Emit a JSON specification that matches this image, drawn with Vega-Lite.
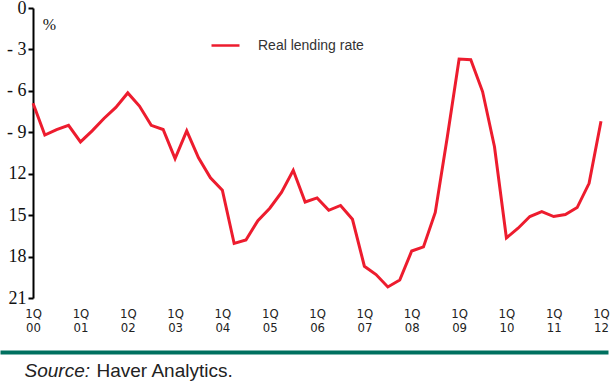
{
  "$schema": "https://vega.github.io/schema/vega-lite/v6.json",
  "width": 608,
  "height": 290,
  "autosize": {"type": "none"},
  "padding": {"left": 0, "top": 8, "right": 6, "bottom": 83},
  "background": "white",
  "config": {"view": {"stroke": null}},
  "datasets": {
    "rate": [
      {"date": "2000-01-01", "value": -6.9, "series": "Real lending rate"},
      {"date": "2000-04-01", "value": -9.2, "series": "Real lending rate"},
      {"date": "2000-07-01", "value": -8.8, "series": "Real lending rate"},
      {"date": "2000-10-01", "value": -8.5, "series": "Real lending rate"},
      {"date": "2001-01-01", "value": -9.7, "series": "Real lending rate"},
      {"date": "2001-04-01", "value": -8.9, "series": "Real lending rate"},
      {"date": "2001-07-01", "value": -8.0, "series": "Real lending rate"},
      {"date": "2001-10-01", "value": -7.2, "series": "Real lending rate"},
      {"date": "2002-01-01", "value": -6.15, "series": "Real lending rate"},
      {"date": "2002-04-01", "value": -7.1, "series": "Real lending rate"},
      {"date": "2002-07-01", "value": -8.5, "series": "Real lending rate"},
      {"date": "2002-10-01", "value": -8.8, "series": "Real lending rate"},
      {"date": "2003-01-01", "value": -10.9, "series": "Real lending rate"},
      {"date": "2003-04-01", "value": -8.9, "series": "Real lending rate"},
      {"date": "2003-07-01", "value": -10.85, "series": "Real lending rate"},
      {"date": "2003-10-01", "value": -12.3, "series": "Real lending rate"},
      {"date": "2004-01-01", "value": -13.2, "series": "Real lending rate"},
      {"date": "2004-04-01", "value": -17.05, "series": "Real lending rate"},
      {"date": "2004-07-01", "value": -16.8, "series": "Real lending rate"},
      {"date": "2004-10-01", "value": -15.4, "series": "Real lending rate"},
      {"date": "2005-01-01", "value": -14.5, "series": "Real lending rate"},
      {"date": "2005-04-01", "value": -13.35, "series": "Real lending rate"},
      {"date": "2005-07-01", "value": -11.75, "series": "Real lending rate"},
      {"date": "2005-10-01", "value": -14.05, "series": "Real lending rate"},
      {"date": "2006-01-01", "value": -13.75, "series": "Real lending rate"},
      {"date": "2006-04-01", "value": -14.65, "series": "Real lending rate"},
      {"date": "2006-07-01", "value": -14.3, "series": "Real lending rate"},
      {"date": "2006-10-01", "value": -15.3, "series": "Real lending rate"},
      {"date": "2007-01-01", "value": -18.7, "series": "Real lending rate"},
      {"date": "2007-04-01", "value": -19.3, "series": "Real lending rate"},
      {"date": "2007-07-01", "value": -20.2, "series": "Real lending rate"},
      {"date": "2007-10-01", "value": -19.7, "series": "Real lending rate"},
      {"date": "2008-01-01", "value": -17.6, "series": "Real lending rate"},
      {"date": "2008-04-01", "value": -17.3, "series": "Real lending rate"},
      {"date": "2008-07-01", "value": -14.8, "series": "Real lending rate"},
      {"date": "2008-10-01", "value": -9.4, "series": "Real lending rate"},
      {"date": "2009-01-01", "value": -3.7, "series": "Real lending rate"},
      {"date": "2009-04-01", "value": -3.75, "series": "Real lending rate"},
      {"date": "2009-07-01", "value": -6.05, "series": "Real lending rate"},
      {"date": "2009-10-01", "value": -10.05, "series": "Real lending rate"},
      {"date": "2010-01-01", "value": -16.65, "series": "Real lending rate"},
      {"date": "2010-04-01", "value": -15.95, "series": "Real lending rate"},
      {"date": "2010-07-01", "value": -15.1, "series": "Real lending rate"},
      {"date": "2010-10-01", "value": -14.75, "series": "Real lending rate"},
      {"date": "2011-01-01", "value": -15.1, "series": "Real lending rate"},
      {"date": "2011-04-01", "value": -14.95, "series": "Real lending rate"},
      {"date": "2011-07-01", "value": -14.45, "series": "Real lending rate"},
      {"date": "2011-10-01", "value": -12.7, "series": "Real lending rate"},
      {"date": "2012-01-01", "value": -8.2, "series": "Real lending rate"}
    ]
  },
  "resolve": {"axis": {"x": "independent", "y": "independent"}},
  "layer": [
    {
      "data": {"name": "rate"},
      "mark": {"type": "line", "strokeWidth": 3, "strokeJoin": "miter"},
      "encoding": {
        "x": {
          "field": "date",
          "type": "temporal",
          "scale": {"type": "utc", "domain": ["1999-04-21", "2012-02-24"], "nice": false},
          "axis": {
            "orient": "bottom",
            "offset": 54,
            "values": ["2000-01-01", "2001-01-01", "2002-01-01", "2003-01-01", "2004-01-01", "2005-01-01", "2006-01-01", "2007-01-01", "2008-01-01", "2009-01-01", "2010-01-01", "2011-01-01", "2012-01-01"],
            "labelExpr": "['1Q', utcFormat(datum.value, '%y')]",
            "labelFont": "Liberation Sans Narrow, DejaVu Sans Condensed, Liberation Sans",
            "labelFontSize": 13,
            "labelLineHeight": 14,
            "labelColor": "#222222",
            "labelPadding": -45,
            "labelBaseline": "top",
            "labelFlush": false,
            "labelOverlap": false,
            "ticks": false,
            "grid": false,
            "domain": true,
            "domainColor": "#00705F",
            "domainWidth": 4,
            "title": "Haver Analytics.",
            "titleFont": "Liberation Sans",
            "titleFontSize": 19,
            "titleFontWeight": "normal",
            "titleColor": "#222222",
            "titleAnchor": "start",
            "titleAlign": "left",
            "titleBaseline": "alphabetic",
            "titleX": 96,
            "titleY": 24
          }
        },
        "y": {
          "field": "value",
          "type": "quantitative",
          "scale": {"domain": [-21, 0], "nice": false, "zero": false},
          "axis": {
            "orient": "left",
            "offset": -33,
            "values": [0, -3, -6, -9, -12, -15, -18, -21],
            "labelExpr": "datum.value == 0 ? '0' : (datum.value > -10 ? '- ' + (-datum.value) : '' + (-datum.value))",
            "labelFont": "Liberation Serif",
            "labelFontSize": 18,
            "labelColor": "#111111",
            "labelPadding": 2,
            "tickSize": 5,
            "tickWidth": 2,
            "tickColor": "black",
            "domainColor": "black",
            "domainWidth": 2,
            "grid": false,
            "title": "%",
            "titleAngle": 0,
            "titleFont": "Liberation Serif",
            "titleFontSize": 16,
            "titleFontWeight": "normal",
            "titleColor": "#111111",
            "titleAlign": "center",
            "titleBaseline": "alphabetic",
            "titleX": 16,
            "titleY": 21
          }
        },
        "color": {
          "field": "series",
          "type": "nominal",
          "scale": {"range": ["#ED1C2E"]},
          "legend": {
            "orient": "none",
            "legendX": 210,
            "legendY": 22,
            "title": null,
            "padding": 0,
            "symbolType": "stroke",
            "symbolSize": 784,
            "symbolStrokeWidth": 2.5,
            "labelOffset": 17,
            "labelFont": "Liberation Sans",
            "labelFontSize": 14,
            "labelColor": "#333333"
          }
        }
      }
    },
    {
      "mark": {"type": "rule", "color": "black", "strokeWidth": 2},
      "encoding": {
        "x": {
          "datum": "2000-01-01",
          "type": "temporal",
          "axis": {
            "orient": "bottom",
            "offset": 54,
            "domain": false,
            "ticks": false,
            "labels": false,
            "grid": false,
            "title": "Source:",
            "titleFont": "Liberation Sans",
            "titleFontSize": 19,
            "titleFontWeight": "normal",
            "titleFontStyle": "italic",
            "titleColor": "#222222",
            "titleAnchor": "start",
            "titleAlign": "left",
            "titleBaseline": "alphabetic",
            "titleX": 24,
            "titleY": 24
          }
        },
        "x2": {"datum": "2012-01-01"},
        "y": {"datum": 0, "type": "quantitative", "axis": null}
      }
    }
  ]
}
